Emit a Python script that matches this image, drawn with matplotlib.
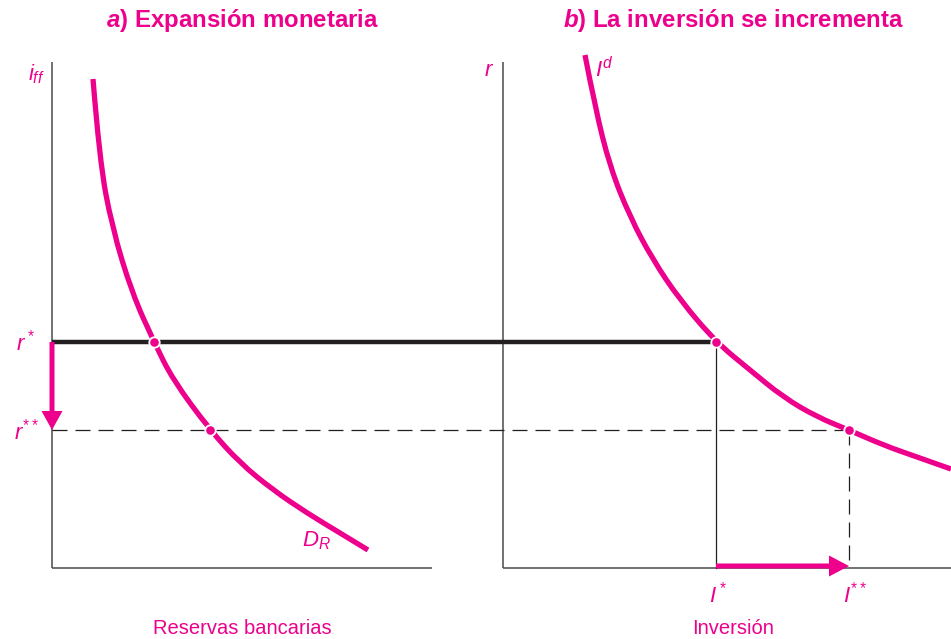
import matplotlib.pyplot as plt
from matplotlib.patches import FancyArrow, PathPatch
from matplotlib.path import Path

plt.rcParams['font.family'] = ['Liberation Sans', 'DejaVu Sans']
plt.rcParams['mathtext.fontset'] = 'custom'
plt.rcParams['mathtext.it'] = 'Liberation Sans:italic'
plt.rcParams['mathtext.rm'] = 'Liberation Sans'
plt.rcParams['mathtext.bf'] = 'Liberation Sans:italic:bold'

PINK = '#EC008C'
AXIS = '#4a4a4a'
INK = '#231F20'

# curve points (pixel units, y grows downward)
dr_x = [93, 99.5, 112, 132, 154, 173, 210, 240, 273, 307, 340, 368]
dr_y = [79, 160, 227, 293, 342, 380, 430, 463, 490, 513, 533, 550]
id_x = [585, 595, 610, 630, 653, 680, 716, 750, 783, 817, 849, 883, 917, 951]
id_y = [55, 107, 167, 217, 260, 300, 342, 370, 397, 417, 430, 445, 457, 469]

# equilibrium levels
r_star, r_2star = 342, 430
dr_star, dr_2star = 154, 210
i_star, i_2star = 716, 849

# axes frames: (origin x, top y, right end x, origin y)
left_axes = (52, 62, 432, 568)
right_axes = (503, 62, 951, 568)


def smooth_path(xs, ys):
    # quadratic b-spline through the read points, drawn by matplotlib's Path
    pts = list(zip(xs, ys))
    verts = [pts[0]]
    codes = [Path.MOVETO]
    for i in range(1, len(pts) - 1):
        mid = ((pts[i][0] + pts[i + 1][0]) / 2, (pts[i][1] + pts[i + 1][1]) / 2)
        if i == len(pts) - 2:
            mid = pts[-1]
        verts += [pts[i], mid]
        codes += [Path.CURVE3, Path.CURVE3]
    return Path(verts, codes)


fig = plt.figure(figsize=(9.51, 6.39), dpi=100)
ax = fig.add_axes([0, 0, 1, 1])
ax.set_xlim(0, 951)
ax.set_ylim(639, 0)
ax.axis('off')

for x0, top, x1, y0 in (left_axes, right_axes):
    ax.plot([x0, x0], [top, y0], color=AXIS, lw=1.1, solid_capstyle='butt')
    ax.plot([x0, x1], [y0, y0], color=AXIS, lw=1.1, solid_capstyle='butt')

# thin guides
ax.plot([i_star, i_star], [r_star, left_axes[3]], color=INK, lw=0.9)
ax.plot([left_axes[0], i_2star], [r_2star, r_2star], color=INK, lw=0.9,
        dashes=(12, 6.4))
ax.plot([i_2star, i_2star], [r_2star, left_axes[3]], color=INK, lw=0.9,
        dashes=(12, 6.4))

# thick r* line
ax.plot([left_axes[0], i_star], [r_star, r_star], color=INK, lw=3.2,
        solid_capstyle='butt')

# curves
for xs, ys in ((dr_x, dr_y), (id_x, id_y)):
    ax.add_patch(PathPatch(smooth_path(xs, ys), fill=False, edgecolor=PINK,
                           lw=3.8, capstyle='butt', zorder=3))

# points
for px, py in [(dr_star, r_star), (dr_2star, r_2star),
               (i_star, r_star), (i_2star, r_2star)]:
    ax.plot(px, py, 'o', color=PINK, ms=7.5, mec='white', mew=1.3, zorder=5)

# arrows
ax.add_patch(FancyArrow(left_axes[0], r_star, 0, r_2star - r_star,
                        width=5, head_width=21, head_length=19,
                        length_includes_head=True, color=PINK, lw=0, zorder=6))
ax.add_patch(FancyArrow(i_star, left_axes[3] - 2, i_2star - i_star, 0,
                        width=5, head_width=21, head_length=20,
                        length_includes_head=True, color=PINK, lw=0, zorder=6))

# labels
ax.text(242, 21, r'$\mathbf{a}$) Expansión monetaria', color=PINK,
        fontsize=17.3, fontweight='bold', ha='center', va='center')
ax.text(733, 21, r'$\mathbf{b}$) La inversión se incrementa', color=PINK,
        fontsize=17.3, fontweight='bold', ha='center', va='center')

ax.text(36, 74, r'$i_{ff}$', color=PINK, fontsize=16, ha='center', va='center')
ax.text(489, 71, r'$r$', color=PINK, fontsize=16, ha='center', va='center')
ax.text(604, 70, r'$I^d$', color=PINK, fontsize=16, ha='center', va='center')
ax.text(316, 541, r'$D_R$', color=PINK, fontsize=16, ha='center', va='center')

ax.text(25, 343, r'$r^*$', color=PINK, fontsize=16, ha='center', va='center')
ax.text(26, 432, r'$r^{**}$', color=PINK, fontsize=16, ha='center', va='center')
ax.text(i_star + 2, 595, r'$I^*$', color=PINK, fontsize=16, ha='center', va='center')
ax.text(i_2star + 6, 595, r'$I^{**}$', color=PINK, fontsize=16, ha='center', va='center')

ax.text(242, 628, 'Reservas bancarias', color=PINK, fontsize=14.5,
        ha='center', va='center')
ax.text(733, 628, 'Inversión', color=PINK, fontsize=14.5,
        ha='center', va='center')

fig.savefig('out.png', dpi=100)
